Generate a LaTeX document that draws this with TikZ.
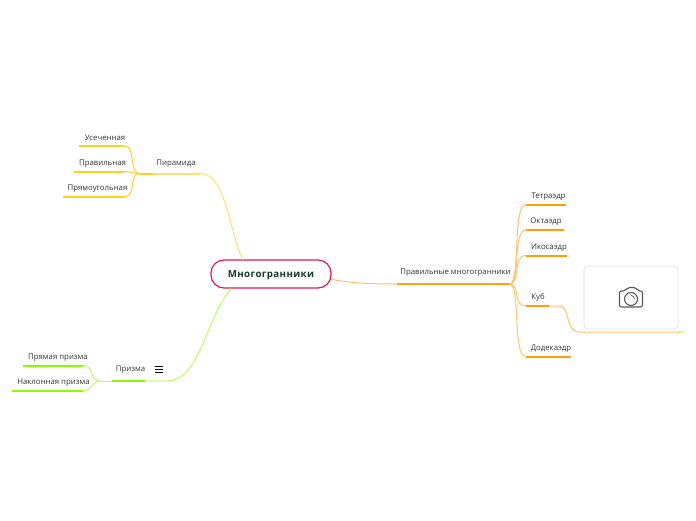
\documentclass[tikz,border=0pt]{standalone}
\usepackage{fontspec}
\setmainfont{Open Sans}
\usetikzlibrary{positioning}
\definecolor{rootred}{HTML}{E2185B}
\definecolor{rootgreen}{HTML}{0F3D2E}
\definecolor{pyryellow}{HTML}{FFD21F}
\definecolor{prismgreen}{HTML}{8CFA00}
\definecolor{regorange}{HTML}{FF9F0A}
\tikzset{
  lbl/.style={font=\fontsize{7.8}{9}\selectfont, text=black!80, inner sep=0pt, yshift=-1.4pt},
  bar/.style={fill=#1, inner sep=0pt, minimum height=2pt, anchor=west},
  link/.style={draw=#1, line width=1pt, line cap=round}
}
\begin{document}
\begin{tikzpicture}[x=1pt,y=-1pt]
  \useasboundingbox (0,0) rectangle (696,520);

  % central topic
  \node[draw=rootred, line width=1.2pt, fill=white, rounded corners=13pt, minimum width=120pt, minimum height=28pt, inner sep=0pt, text depth=0pt,
    font=\fontsize{9.7}{11}\bfseries\addfontfeatures{LetterSpace=4}, text=rootgreen] (root) at (271,274) {Многогранники};

  % pyramid branch
  \node[lbl] (pyr) at (176,162) {Пирамида};
  \node[bar=pyryellow!65, minimum width=47pt] (pyrbar) at (153,173.5) {};
  \node[bar=pyryellow, minimum width=14pt] (pyrstem) at (139,173.5) {};
  \node[lbl] (trunc) at (105,136) {Усеченная};
  \node[bar=pyryellow, minimum width=45pt] (truncbar) at (79,145.7) {};
  \node[lbl] (regpyr) at (102.5,162) {Правильная};
  \node[bar=pyryellow, minimum width=50pt] (regpyrbar) at (74,171.5) {};
  \node[lbl] (rectpyr) at (97.5,187) {Прямоугольная};
  \node[bar=pyryellow, minimum width=62pt] (rectpyrbar) at (63,196.5) {};
  \draw[link=pyryellow!65] (pyrbar.east) .. controls (225,173.5) and (228,225) .. (root.153);
  \draw[link=pyryellow] (truncbar.east) .. controls (136,145.7) and (129,173.5) .. (pyrstem.west);
  \draw[link=pyryellow] (regpyrbar.east) .. controls (130,171.5) and (133,173.5) .. (pyrstem.west);
  \draw[link=pyryellow] (rectpyrbar.east) .. controls (136,196.5) and (129,173.5) .. (pyrstem.west);

  % prism branch
  \node[lbl] (prism) at (130.5,368.5) {Призма};
  \node[bar=prismgreen, minimum width=33pt] (prismbar) at (112,381) {};
  \coordinate (prismjoin) at (100,381);
  \node[lbl] (straight) at (58,356.5) {Прямая призма};
  \node[bar=prismgreen, minimum width=60pt] (straightbar) at (23,365.5) {};
  \node[lbl] (oblique) at (53.5,381) {Наклонная призма};
  \node[bar=prismgreen, minimum width=71pt] (obliquebar) at (12,390.5) {};
  \draw[link=prismgreen!60] (prismbar.east) -- (167,381) .. controls (200,381) and (205,320) .. (root.200);
  \draw[link=prismgreen!60] (prismjoin) -- (prismbar.west);
  \draw[link=prismgreen!60] (straightbar.east) .. controls (94,365.5) and (90,381) .. (prismjoin);
  \draw[link=prismgreen!60] (obliquebar.east) .. controls (94,390.5) and (90,381) .. (prismjoin);
  \foreach \y in {366,369.3,372.6}
    \draw[black, line width=0.9pt] (155,\y) -- (163,\y);

  % regular polyhedra branch
  \node[lbl] (reg) at (455.5,271.5) {Правильные многогранники};
  \node[bar=regorange, minimum width=112pt] (regbar) at (397,284) {};
  \node[lbl] (tetra) at (548.5,195) {Тетраэдр};
  \node[bar=regorange, minimum width=40pt] (tetrabar) at (526,204.5) {};
  \node[lbl] (octa) at (546,220.5) {Октаэдр};
  \node[bar=regorange, minimum width=38pt] (octabar) at (526,230) {};
  \node[lbl] (icosa) at (549,246) {Икосаэдр};
  \node[bar=regorange, minimum width=41pt] (icosabar) at (526,255.5) {};
  \node[lbl] (cube) at (538,296.5) {Куб};
  \node[bar=regorange, minimum width=23pt] (cubebar) at (526,306) {};
  \node[lbl] (dodeca) at (551,347.5) {Додекаэдр};
  \node[bar=regorange, minimum width=45pt] (dodecabar) at (526,356.5) {};
  \draw[link=regorange!60] (root.-5) .. controls (350,283) and (370,284) .. (regbar.west);
  \foreach \t/\y in {tetrabar/204.5,octabar/230,icosabar/255.5,cubebar/306,dodecabar/356.5}
    \draw[link=regorange!60] (regbar.east) .. controls (521,284) and (512,\y) .. (\t.west);

  % image card on the cube topic
  \node[draw=black!12, line width=0.8pt, rounded corners=4pt, minimum width=94pt, minimum height=63pt, inner sep=0pt] (card) at (631,297.5) {};
  \coordinate (cubeend) at (684,332);
  \draw[link=regorange!60] (cubebar.east) -- (560,306) .. controls (570,306) and (565,332) .. (579,332) -- (cubeend);
  \draw[black!65, line width=1.1pt, rounded corners=2pt] (619.5,291) -- (625,291) -- (627.5,287.5) -- (636,287.5) -- (638,291) -- (642.5,291) -- (642.5,307) -- (619.5,307) -- cycle;
  \draw[black!65, line width=1.1pt] (631,299) circle (6.5pt);
  \draw[black!65, line width=0.7pt] (631,295.5) arc (90:0:3.5pt);
\end{tikzpicture}
\end{document}
